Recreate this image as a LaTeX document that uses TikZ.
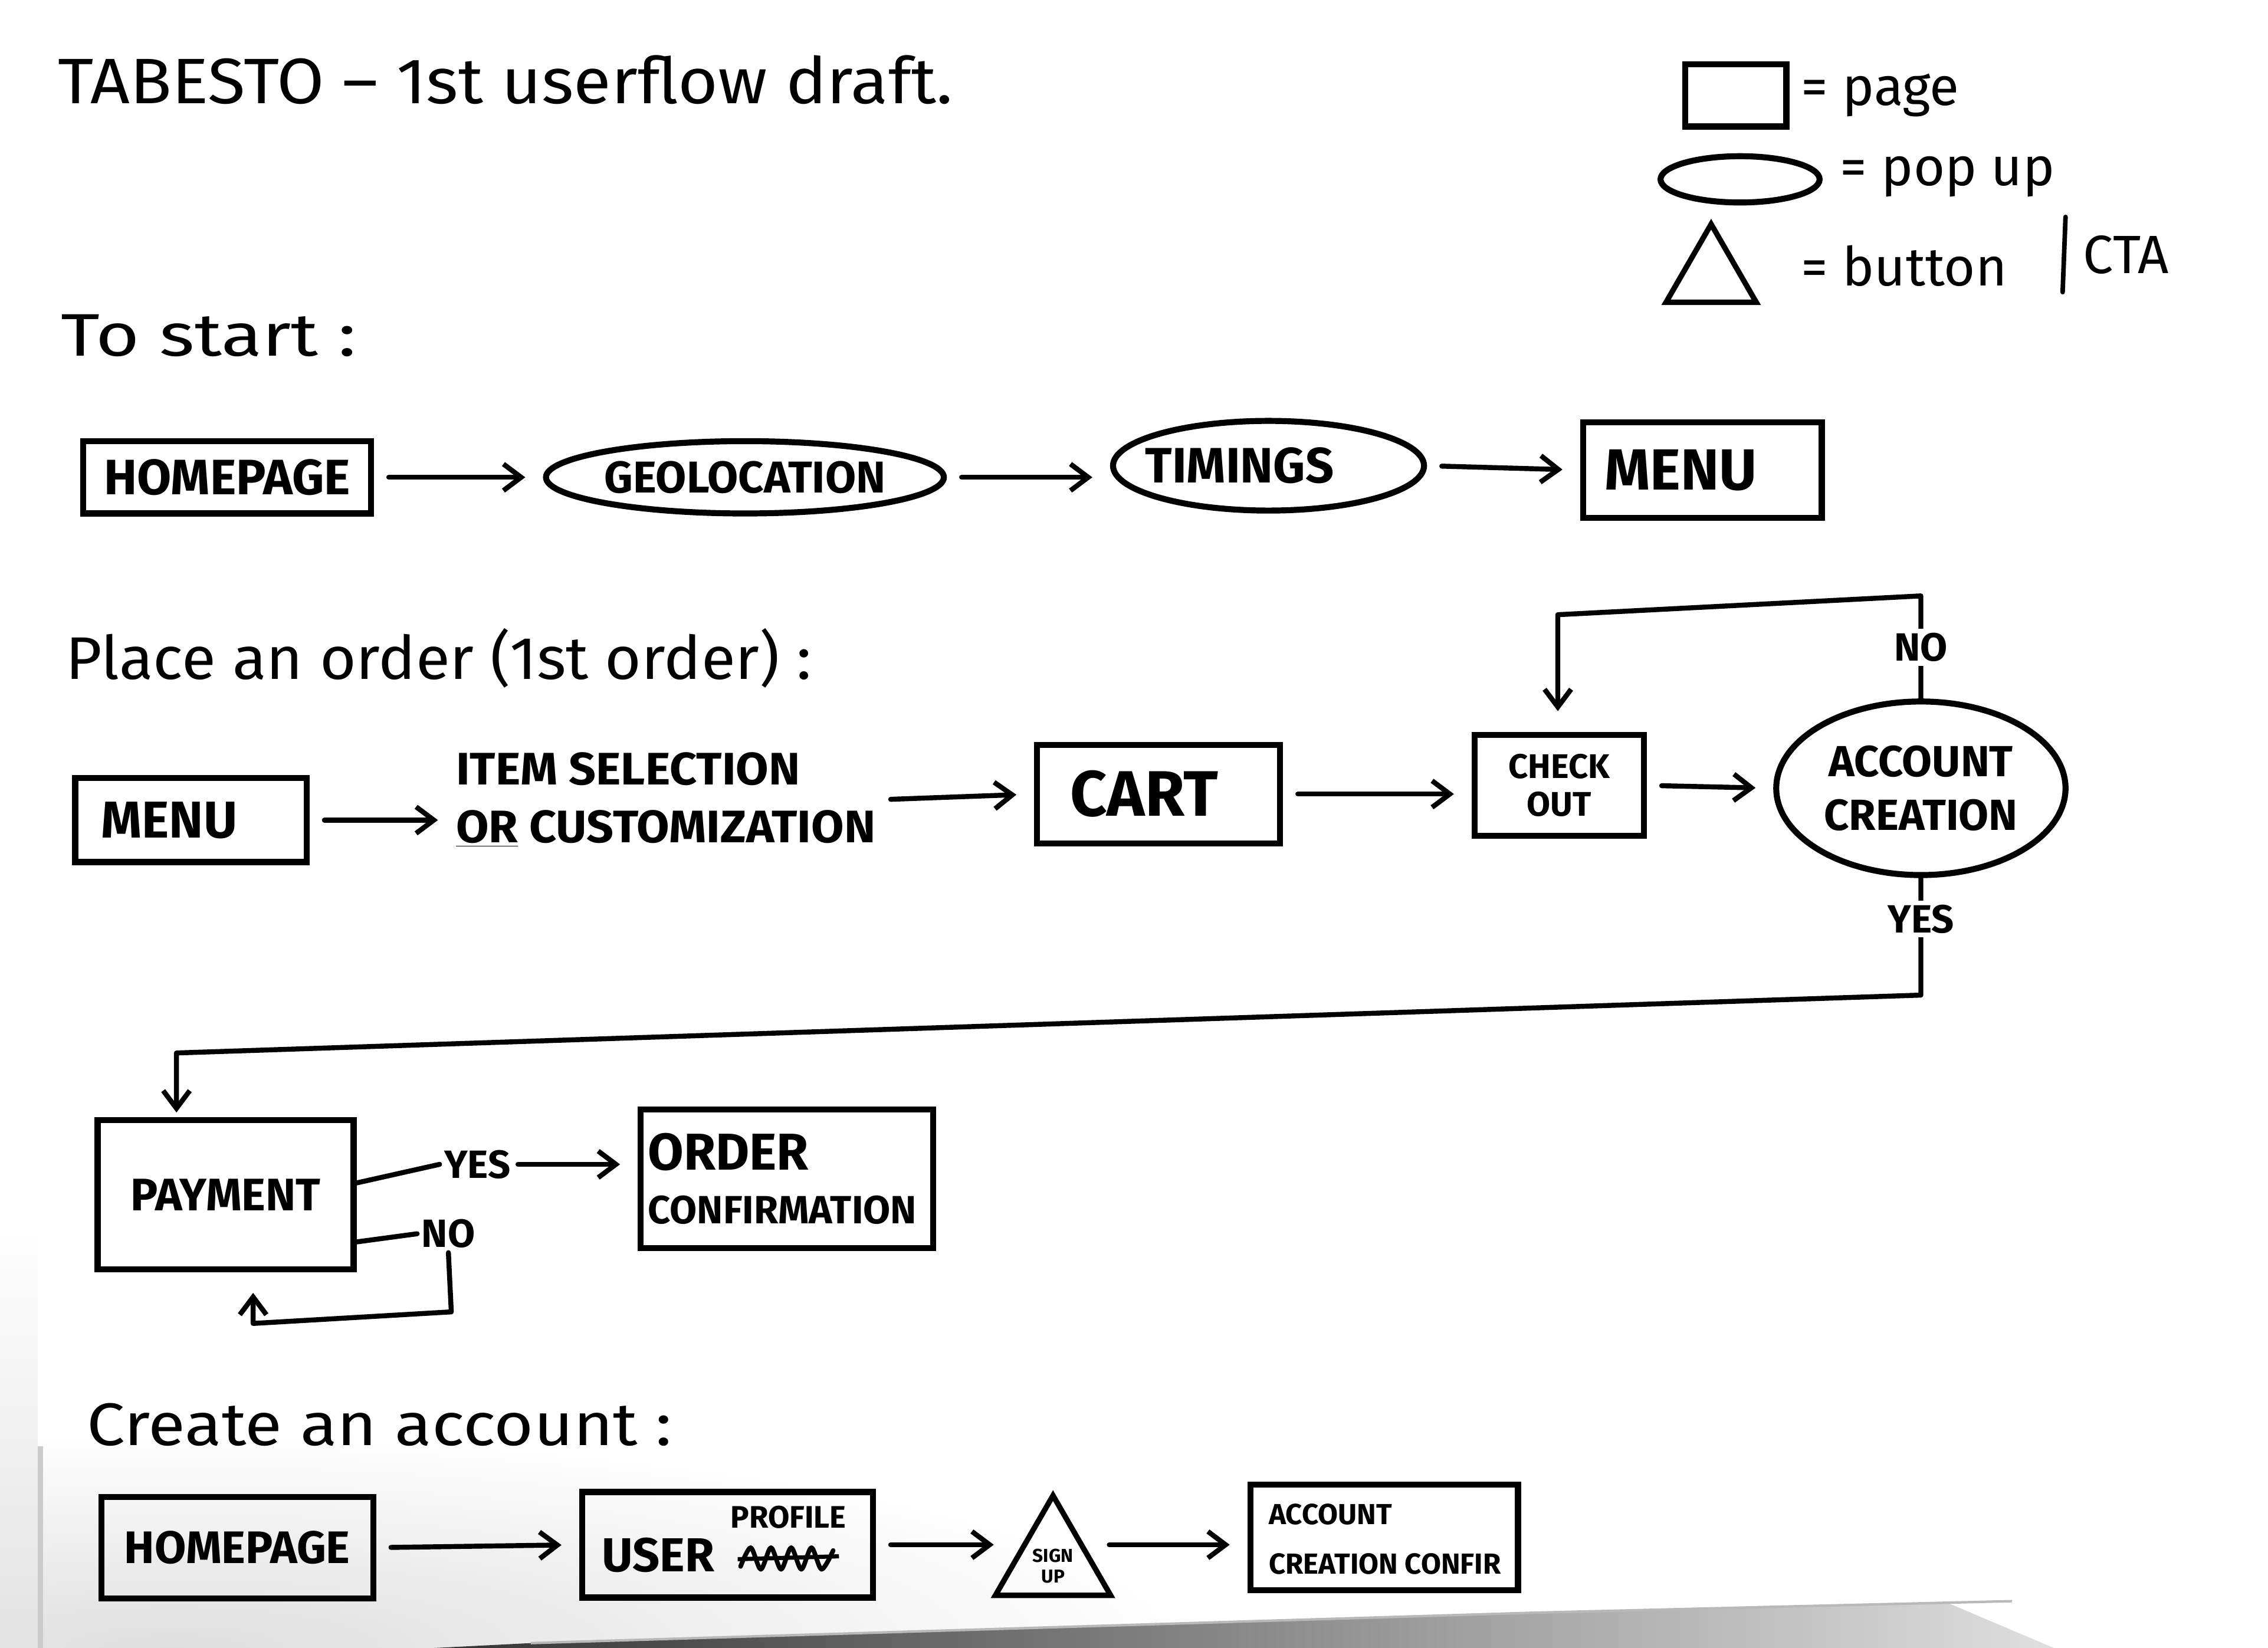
\documentclass[tikz,border=0pt]{standalone}
\usepackage{fontspec}
\setmainfont{Fira Sans}
\usetikzlibrary{shapes.geometric, arrows.meta, calc}
\begin{document}
\def\U{0.02452cm}
\begin{tikzpicture}[x=0.02452cm, y=-0.02452cm,
  page/.style={draw, line width=2.9pt, inner sep=0pt, font=\bfseries},
  popup/.style={ellipse, draw, line width=2.9pt, inner sep=0pt, font=\bfseries},
  cta/.style={regular polygon, regular polygon sides=3, draw, line width=2.6pt, inner sep=0pt, font=\bfseries},
  conn/.style={line width=2.4pt, line cap=round, line join=round},
  tip/.style={-{Straight Barb[length=0.3cm, width=0.45cm]}},
  flow/.style={conn, tip, shorten <=0.25cm, shorten >=0.3cm},
  head/.style={anchor=west, inner sep=0pt, font=\fontsize{29}{33}\selectfont},
  lbl/.style={inner sep=2pt, font=\bfseries\fontsize{19}{21}\selectfont},
  legtxt/.style={anchor=west, inner sep=0pt, font=\fontsize{26}{30}\selectfont},
]
\useasboundingbox (0,0) rectangle (1568,1139.4);
\fill[white] (0,0) rectangle (1568,1139.4);
% paper texture and shadow at the bottom
\begin{scope}
\clip (0,0) rectangle (1568,1139.4);
\shade[inner color=gray!25, outer color=white] (120,1139.4) ellipse [x radius=720, y radius=150];
\shade[top color=white, bottom color=gray!22] (0,840) rectangle (26,1139.4);
\draw[gray!40, line width=2.5pt] (28,1000) -- (28,1139.4);
\shade[left color=black!80, right color=gray!25] (300,1139.4) -- (367,1136) -- (1060,1115) -- (1223,1111) -- (1346,1108) -- (1420,1139.4) -- cycle;
\draw[gray!55, line width=1.2pt] (367,1136) -- (1060,1115) -- (1223,1111) -- (1391,1107);
\end{scope}

% headings
\node[head, font=\fontsize{31}{35}\selectfont] (title) at (40,55) {\scalebox{1.07}[1]{TABESTO – 1st userflow draft.}};
\node[head] (h1) at (42,232) {\scalebox{1.25}[1]{To start :}};
\node[head] (h2) at (45,455) {\scalebox{1.04}[1]{Place an order (1st order) :}};
\node[head] (h3) at (60,985) {\scalebox{1.13}[1]{Create an account :}};

% legend
\node[page, minimum width=70*\U, minimum height=43*\U] (lgpage) at (1200,66) {};
\node[legtxt] (lgpaget) at (1245,66) {= page};
\node[popup, minimum width=110*\U, minimum height=32*\U] (lgpop) at (1203,124) {};
\node[legtxt] (lgpopt) at (1272,122) {= pop up};
\node[cta, minimum size=72*\U] (lgcta) at (1183,191) {};
\node[legtxt] (lgctat) at (1245,184) {= button};
\draw[line width=2.2pt, line cap=round] (1428,150) -- (1426,202);
\node[legtxt] (lgcta2) at (1440,176) {CTA};

% row 1
\node[page, minimum width=199*\U, minimum height=50*\U, font=\bfseries\fontsize{24}{27}\selectfont] (home1) at (157,330) {HOMEPAGE};
\node[popup, minimum width=234*\U, minimum height=50*\U, font=\bfseries\fontsize{21.5}{24}\selectfont] (geo) at (515,330) {GEOLOCATION};
\node[popup, minimum width=215*\U, minimum height=62*\U,
      label={[font=\bfseries\fontsize{24}{27}\selectfont, xshift=-20*\U]center:TIMINGS}] (tim) at (877,322) {};
\node[page, minimum width=165*\U, minimum height=66*\U,
      label={[font=\bfseries\fontsize{28}{30}\selectfont, xshift=-15*\U]center:MENU}] (menu1) at (1177,325) {};
\draw[flow] (home1.east) -- (geo.west);
\draw[flow] (geo.east) -- (tim.west |- geo.east);
\draw[flow] (tim.east) -- (menu1.west);

% row 2
\node[page, minimum width=160*\U, minimum height=58*\U,
      label={[font=\bfseries\fontsize{25}{28}\selectfont, xshift=-15*\U]center:MENU}] (menu2) at (132,567) {};
\node[anchor=west, align=left, inner sep=0pt, font=\bfseries\fontsize{22}{28}\selectfont] (items) at (315,553) {\scalebox{1.04}[1]{ITEM SELECTION}\\\scalebox{1.04}[1]{\underline{OR} CUSTOMIZATION}};
\node[page, minimum width=168*\U, minimum height=68*\U,
      label={[font=\bfseries\fontsize{31}{33}\selectfont, xshift=-10*\U]center:CART}] (cart) at (801,549) {};
\node[page, minimum width=117*\U, minimum height=70*\U, align=center, font=\bfseries\fontsize{16.5}{18}\selectfont] (chk) at (1078,543) {CHECK\\OUT};
\node[popup, minimum width=200*\U, minimum height=120*\U, align=center, font=\bfseries\fontsize{21}{26}\selectfont] (acc) at (1328,545) {ACCOUNT\\CREATION};
\draw[flow] (menu2.east) -- (items.west |- menu2.east);
\draw[flow] (items.east) -- (cart.west);
\draw[flow] (cart.east) -- (cart.east -| chk.west);
\draw[flow] (chk.east) -- (acc.west);

% NO loop back to check out
\coordinate (n1) at (1318,412);
\coordinate (n2) at (1077,425);
\draw[conn, tip, shorten >=0.35cm] (acc.north) -- node[lbl, fill=white]{NO} (acc.north |- n1) -- (n2) -- (n2 |- chk.north);

% row 3
\node[page, minimum width=177*\U, minimum height=103*\U, font=\bfseries\fontsize{22}{24}\selectfont] (pay) at (156,826) {PAYMENT};
\node[page, minimum width=202*\U, minimum height=96*\U, align=left, text width=192*\U, font=\bfseries\fontsize{19}{26}\selectfont] (ordc) at (544,815) {{\fontsize{25}{26}\selectfont ORDER}\\CONFIRMATION};

% YES down to payment
\coordinate (y1) at (1325,688);
\coordinate (y2) at (122,728);
\draw[conn, tip, shorten >=0.08cm] (acc.south) -- node[lbl, fill=white, pos=0.35]{YES} (acc.south |- y1) -- (y2) -- (y2 |- pay.north);

\node[lbl] (yes2) at (330,805) {YES};
\node[lbl] (no2) at (310,853) {NO};
\draw[conn] ([yshift=0.2cm]pay.east) -- (yes2.west);
\draw[conn, tip, shorten >=0.3cm, shorten <=0.05cm] (yes2.east) -- (ordc.west |- yes2.east);
\draw[conn] ([yshift=-0.8cm]pay.east) -- (no2.west);
\coordinate (q1) at (312,907);
\coordinate (q2) at (175,915);
\draw[conn, tip, shorten >=0.35cm] (no2.south) -- (q1) -- (q2) -- (q2 |- pay.south);

% row 4
\node[page, minimum width=188*\U, minimum height=70*\U, font=\bfseries\fontsize{22}{26}\selectfont] (home2) at (164,1070) {HOMEPAGE};
\node[page, minimum width=201*\U, minimum height=73*\U] (user) at (503,1068) {};
\node[inner sep=0pt, font=\bfseries\fontsize{23}{26}\selectfont] (usert) at (455,1075) {USER};
\node[inner sep=0pt, font=\bfseries\fontsize{15}{18}\selectfont] (proft) at (545,1049) {PROFILE};
\draw[line width=2.2pt, line cap=round, line join=round] plot[smooth] coordinates {(512,1083) (519,1070) (526,1085) (533,1070) (540,1085) (547,1070) (554,1085) (561,1070) (568,1085) (576,1072)};
\draw[line width=2pt] (510,1078) -- (580,1076);
\node[cta, minimum size=92*\U, align=center, font=\bfseries\fontsize{9}{10}\selectfont] (sign) at (728,1080) {\\SIGN\\UP};
\node[page, minimum width=185*\U, minimum height=73*\U] (acc2) at (957,1063) {};
\node[anchor=west, align=left, inner sep=0pt, font=\bfseries\fontsize{14}{24}\selectfont] (acc2t) at (877,1064) {ACCOUNT\\CREATION CONFIR};
\draw[flow] (home2.east) -- (user.west);
\draw[flow] (user.east) -- (user.east -| sign.west);
\draw[flow] (user.east -| sign.east) -- (acc2.west |- user.east);
\end{tikzpicture}
\end{document}
